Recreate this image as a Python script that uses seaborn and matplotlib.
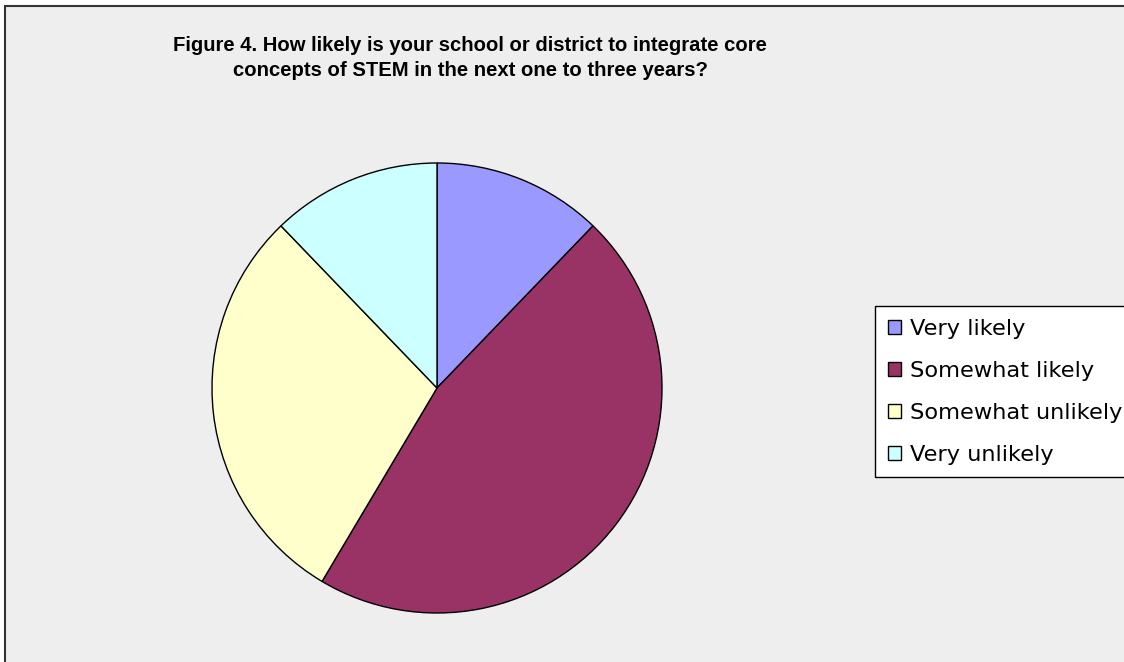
import matplotlib
matplotlib.use("Agg")
import matplotlib.pyplot as plt
import seaborn as sns
from matplotlib.patches import Rectangle

# Survey responses
labels = ['Very likely', 'Somewhat likely', 'Somewhat unlikely', 'Very unlikely']
counts = [5, 19, 12, 5]
colors = ['#9999FF', '#993366', '#FFFFCC', '#CCFFFF']
title = ('Figure 4. How likely is your school or district to integrate core\n'
         'concepts of STEM in the next one to three years?')

sns.set_theme(style='white')
plt.rcParams['font.family'] = ['Liberation Sans', 'DejaVu Sans']

W, H = 1124, 662
fig = plt.figure(figsize=(W / 100, H / 100), dpi=100)
fig.patch.set_facecolor('white')

# chart area with grey fill, border only visible left and top
fig.add_artist(Rectangle((5 / W, -0.1), 1.2, (H - 6) / H + 0.1,
                         transform=fig.transFigure, facecolor='#EEEEEE',
                         edgecolor='#333333', linewidth=1.5, zorder=0))

cx, cy, r = 437, 388, 225
ax = fig.add_axes([(cx - r) / W, (H - cy - r) / H, 2 * r / W, 2 * r / H])
wedges, _ = ax.pie(counts, colors=colors, startangle=90, counterclock=False,
                   wedgeprops=dict(edgecolor='black', linewidth=1.0))
ax.set_aspect('equal')
ax.set_xlim(-1.0, 1.0)
ax.set_ylim(-1.0, 1.0)
ax.axis('off')

fig.text(470 / W, 1 - 58 / H, title, ha='center', va='center',
         fontsize=14.6, fontweight='bold', linespacing=1.45, color='black')

leg = fig.legend(wedges, labels, loc='upper left',
                 bbox_to_anchor=(875 / W, 1 - 306 / H),
                 prop=dict(family='DejaVu Sans', size=16.2),
                 frameon=True, fancybox=False, framealpha=1,
                 handlelength=0.6, handleheight=0.6, handletextpad=0.4,
                 labelspacing=0.98, borderpad=0.56, borderaxespad=0)
for t in leg.get_texts():
    t.set_color('black')
leg.get_frame().set_edgecolor('black')
leg.get_frame().set_linewidth(1.0)
leg.get_frame().set_facecolor('white')

fig.savefig('out.png', dpi=100)
